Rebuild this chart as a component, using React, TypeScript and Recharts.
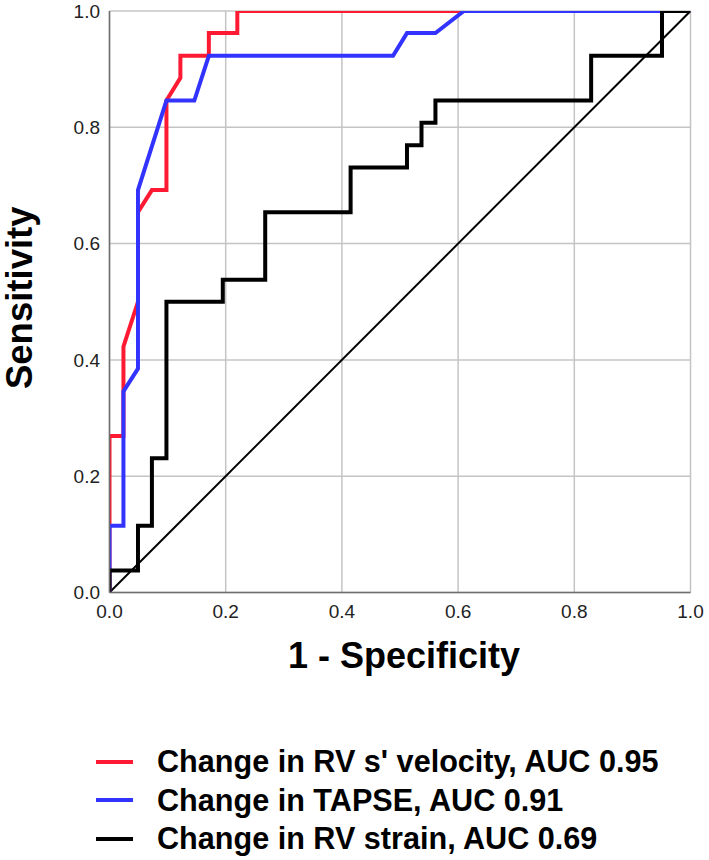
import { CartesianGrid, Label, Legend, Line, LineChart, XAxis, YAxis } from "recharts";

type Pt = { x: number; y: number };

// ROC points (x = 1 - specificity, y = sensitivity)
const velocityRoc: Pt[] = [
  { x: 0, y: 0 },
  { x: 0, y: 0.269 },
  { x: 0.024, y: 0.269 },
  { x: 0.024, y: 0.423 },
  { x: 0.049, y: 0.5 },
  { x: 0.049, y: 0.654 },
  { x: 0.073, y: 0.692 },
  { x: 0.098, y: 0.692 },
  { x: 0.098, y: 0.846 },
  { x: 0.122, y: 0.885 },
  { x: 0.122, y: 0.923 },
  { x: 0.171, y: 0.923 },
  { x: 0.171, y: 0.962 },
  { x: 0.22, y: 0.962 },
  { x: 0.22, y: 1 },
  { x: 1, y: 1 },
];

const tapseRoc: Pt[] = [
  { x: 0, y: 0 },
  { x: 0, y: 0.115 },
  { x: 0.024, y: 0.115 },
  { x: 0.024, y: 0.346 },
  { x: 0.049, y: 0.385 },
  { x: 0.049, y: 0.692 },
  { x: 0.098, y: 0.846 },
  { x: 0.146, y: 0.846 },
  { x: 0.171, y: 0.923 },
  { x: 0.488, y: 0.923 },
  { x: 0.512, y: 0.962 },
  { x: 0.561, y: 0.962 },
  { x: 0.61, y: 1 },
  { x: 1, y: 1 },
];

const strainRoc: Pt[] = [
  { x: 0, y: 0 },
  { x: 0, y: 0.038 },
  { x: 0.049, y: 0.038 },
  { x: 0.049, y: 0.115 },
  { x: 0.073, y: 0.115 },
  { x: 0.073, y: 0.231 },
  { x: 0.098, y: 0.231 },
  { x: 0.098, y: 0.5 },
  { x: 0.195, y: 0.5 },
  { x: 0.195, y: 0.538 },
  { x: 0.268, y: 0.538 },
  { x: 0.268, y: 0.654 },
  { x: 0.415, y: 0.654 },
  { x: 0.415, y: 0.731 },
  { x: 0.512, y: 0.731 },
  { x: 0.512, y: 0.769 },
  { x: 0.537, y: 0.769 },
  { x: 0.537, y: 0.808 },
  { x: 0.561, y: 0.808 },
  { x: 0.561, y: 0.846 },
  { x: 0.829, y: 0.846 },
  { x: 0.829, y: 0.923 },
  { x: 0.951, y: 0.923 },
  { x: 0.951, y: 1 },
  { x: 1, y: 1 },
];

const chanceLine: Pt[] = [
  { x: 0, y: 0 },
  { x: 1, y: 1 },
];

const axisTicks = [0, 0.2, 0.4, 0.6, 0.8, 1];

const seriesNames = [
  "Change in RV s' velocity, AUC 0.95",
  "Change in TAPSE, AUC 0.91",
  "Change in RV strain, AUC 0.69",
];
const seriesColors = ["#ff1a33", "#3333ff", "#000000"];
const seriesData = [velocityRoc, tapseRoc, strainRoc];

const FONT = "'Liberation Sans', Arial, sans-serif";

function RocLegend() {
  return (
    <div style={{ fontFamily: FONT, fontWeight: 700, fontSize: 30.6, color: "#000" }}>
      {seriesNames.map((name, i) => (
        <div key={name} style={{ display: "flex", alignItems: "center", height: 38.5 }}>
          <svg width={37} height={6} style={{ marginRight: 24 }}>
            <line x1={0} y1={3} x2={37} y2={3} stroke={seriesColors[i]} strokeWidth={4} />
          </svg>
          <span style={{ whiteSpace: "nowrap" }}>{name}</span>
        </div>
      ))}
    </div>
  );
}

export default function App() {
  return (
    <div style={{ position: "absolute", left: 0, top: 0, width: 709, height: 860, background: "#fff" }}>
      <LineChart width={709} height={860} margin={{ top: 11, right: 18.5, bottom: 187.5, left: 0 }}>
        <CartesianGrid stroke="#c4c4c4" strokeWidth={1.5} />
        <XAxis
          dataKey="x"
          type="number"
          domain={[0, 1]}
          ticks={axisTicks}
          tickFormatter={(v: number) => v.toFixed(1)}
          tickLine={false}
          tickMargin={6.5}
          height={80}
          axisLine={{ stroke: "#6e6e6e", strokeWidth: 1.5 }}
          tick={{ fill: "#222", fontSize: 19, fontFamily: FONT }}
          allowDataOverflow
        >
          <Label
            value="1 - Specificity"
            position="insideBottom"
            offset={4.5}
            dx={4}
            style={{ fontFamily: FONT, fontWeight: 700, fontSize: 36, fill: "#000" }}
          />
        </XAxis>
        <YAxis
          dataKey="y"
          type="number"
          domain={[0, 1]}
          ticks={axisTicks}
          tickFormatter={(v: number) => v.toFixed(1)}
          tickLine={false}
          tickMargin={3.5}
          width={109.5}
          axisLine={{ stroke: "#6e6e6e", strokeWidth: 1.5 }}
          tick={{ fill: "#222", fontSize: 19, fontFamily: FONT }}
          allowDataOverflow
        >
          <Label
            content={({ viewBox }: any) => (
              <text
                x={32}
                y={viewBox.y + viewBox.height / 2 - 4}
                transform={`rotate(-90, 32, ${viewBox.y + viewBox.height / 2 - 4})`}
                textAnchor="middle"
                style={{ fontFamily: FONT, fontWeight: 700, fontSize: 36.5, fill: "#000" }}
              >
                Sensitivity
              </text>
            )}
          />
        </YAxis>
        <Line
          data={chanceLine}
          dataKey="y"
          type="linear"
          stroke="#000"
          strokeWidth={2}
          dot={false}
          activeDot={false}
          legendType="none"
          isAnimationActive={false}
        />
        {seriesData.map((d, i) => (
          <Line
            key={seriesNames[i]}
            data={d}
            dataKey="y"
            name={seriesNames[i]}
            type="linear"
            stroke={seriesColors[i]}
            strokeWidth={4}
            strokeLinejoin="miter"
            dot={false}
            activeDot={false}
            isAnimationActive={false}
          />
        ))}
        <Legend
          layout="vertical"
          align="center"
          verticalAlign="middle"
          content={() => <RocLegend />}
          wrapperStyle={{ top: 742.5, left: 96, width: "auto", height: "auto" }}
        />
      </LineChart>
    </div>
  );
}
